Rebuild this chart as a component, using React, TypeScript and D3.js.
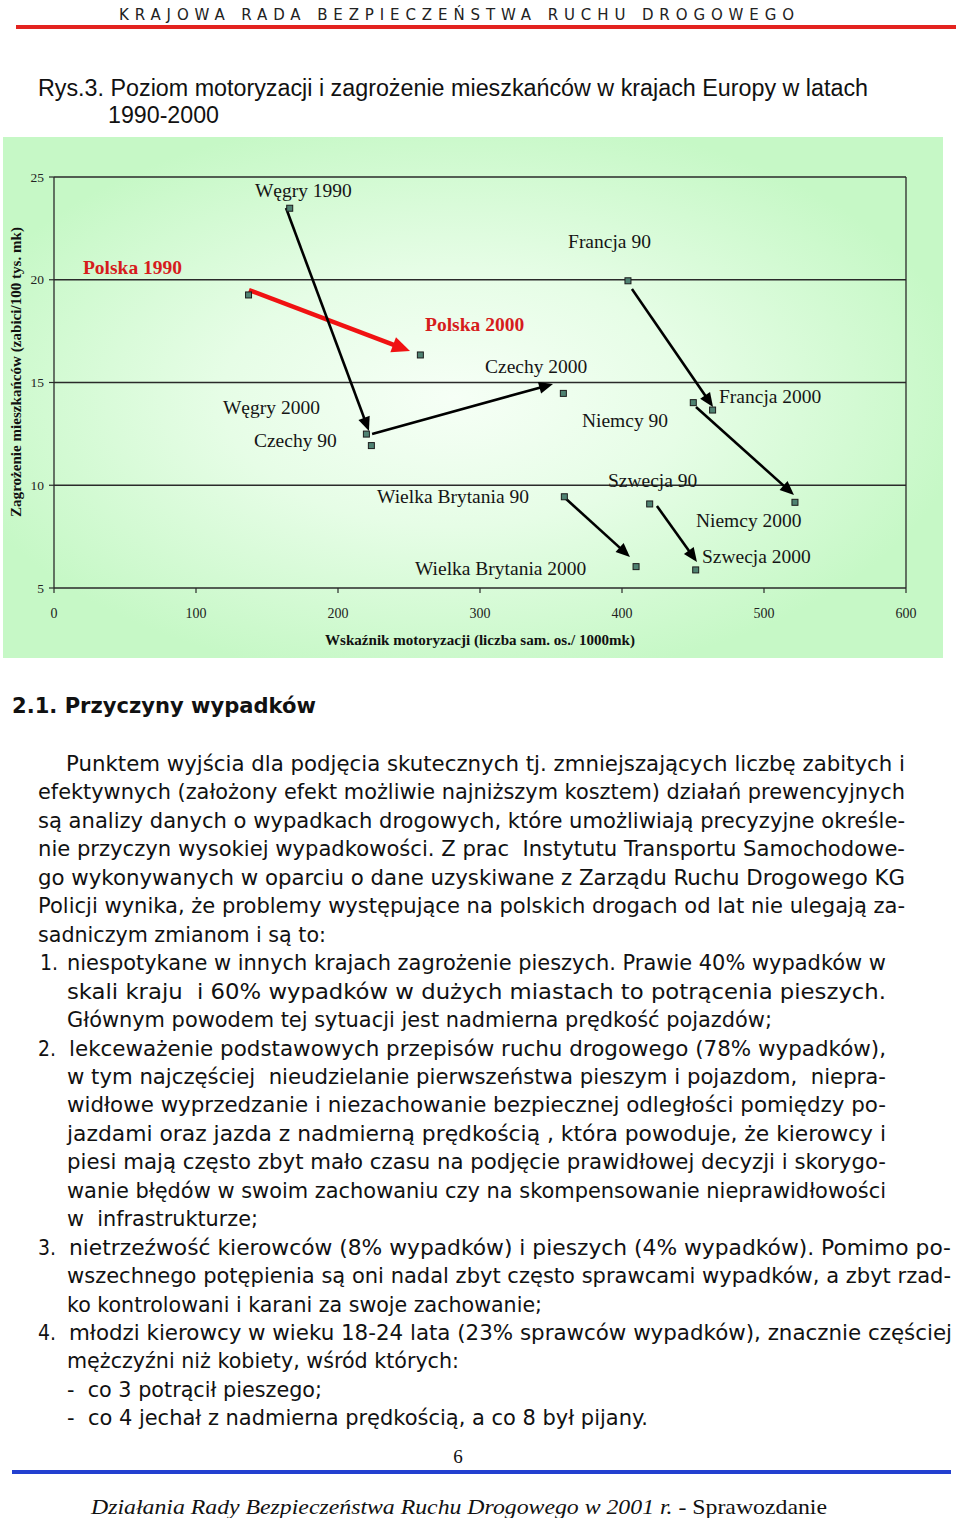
import React from "react";
import * as d3 from "d3";

// ---------- chart data ----------
const pointLabels = [
  "Polska 1990", "Polska 2000", "Węgry 1990", "Węgry 2000", "Czechy 90", "Czechy 2000",
  "Francja 90", "Francja 2000", "Niemcy 90", "Niemcy 2000",
  "Wielka Brytania 90", "Wielka Brytania 2000", "Szwecja 90", "Szwecja 2000",
];
const motorization = [137, 258, 166, 220, 223.5, 358.7, 404.2, 463.8, 450.2, 521.8, 359.4, 409.9, 419.5, 451.9];
const fatalityRate = [19.26, 16.34, 23.48, 12.49, 11.93, 14.47, 19.95, 13.66, 14.02, 9.17, 9.44, 6.04, 9.09, 5.88];
// label anchors (data units: motorization, rate) for the annotations
const labelAnchorX = [20.4, 261.3, 141.5, 119.0, 140.8, 303.5, 362.0, 468.3, 371.8, 452.1, 227.5, 254.2, 390.1, 456.3];
const labelAnchorY = [20.28, 17.51, 24.03, 13.47, 11.86, 15.46, 21.55, 14.0, 12.83, 7.97, 9.14, 5.63, 9.91, 6.22];
const highlightCountry = "Polska";

const arrowCountries = ["Polska", "Węgry", "Czechy", "Francja", "Niemcy", "Wielka Brytania", "Szwecja"];
const arrowStartX = [137.3, 163.4, 224, 407, 452.1, 359.9, 424.6];
const arrowStartY = [19.5, 23.49, 12.49, 19.55, 13.81, 9.38, 8.99];
const arrowEndX = [250.7, 221.8, 351.4, 464.1, 521.1, 405.6, 452.8];
const arrowEndY = [16.53, 12.64, 14.93, 13.81, 9.53, 6.51, 6.27];

const xTicks = [0, 100, 200, 300, 400, 500, 600];
const yTicks = [5, 10, 15, 20, 25];

const headerText = "KRAJOWA RADA BEZPIECZEŃSTWA RUCHU DROGOWEGO";
const titleLine1 = "Rys.3. Poziom motoryzacji i zagrożenie mieszkańców w krajach Europy w latach";
const titleLine2 = "1990-2000";
const xAxisTitle = "Wskaźnik motoryzacji (liczba sam. os./ 1000mk)";
const yAxisTitle = "Zagrożenie mieszkańców (zabici/100 tys. mk)";
const sectionTitle = "2.1. Przyczyny wypadków";

// body text lines: [number marker, text]
const bodyNumbers = ["", "", "", "", "", "", "", "1.", "", "", "2.", "", "", "", "", "", "", "3.", "", "", "4.", "", "", ""];
const bodyLines = [
  "Punktem wyjścia dla podjęcia skutecznych tj. zmniejszających liczbę zabitych i",
  "efektywnych (założony efekt możliwie najniższym kosztem) działań prewencyjnych",
  "są analizy danych o wypadkach drogowych, które umożliwiają precyzyjne określe-",
  "nie przyczyn wysokiej wypadkowości. Z prac  Instytutu Transportu Samochodowe-",
  "go wykonywanych w oparciu o dane uzyskiwane z Zarządu Ruchu Drogowego KG",
  "Policji wynika, że problemy występujące na polskich drogach od lat nie ulegają za-",
  "sadniczym zmianom i są to:",
  "niespotykane w innych krajach zagrożenie pieszych. Prawie 40% wypadków w",
  "skali kraju  i 60% wypadków w dużych miastach to potrącenia pieszych.",
  "Głównym powodem tej sytuacji jest nadmierna prędkość pojazdów;",
  "lekceważenie podstawowych przepisów ruchu drogowego (78% wypadków),",
  "w tym najczęściej  nieudzielanie pierwszeństwa pieszym i pojazdom,  niepra-",
  "widłowe wyprzedzanie i niezachowanie bezpiecznej odległości pomiędzy po-",
  "jazdami oraz jazda z nadmierną prędkością , która powoduje, że kierowcy i",
  "piesi mają często zbyt mało czasu na podjęcie prawidłowej decyzji i skorygo-",
  "wanie błędów w swoim zachowaniu czy na skompensowanie nieprawidłowości",
  "w  infrastrukturze;",
  "nietrzeźwość kierowców (8% wypadków) i pieszych (4% wypadków). Pomimo po-",
  "wszechnego potępienia są oni nadal zbyt często sprawcami wypadków, a zbyt rzad-",
  "ko kontrolowani i karani za swoje zachowanie;",
  "młodzi kierowcy w wieku 18-24 lata (23% sprawców wypadków), znacznie częściej",
  "mężczyźni niż kobiety, wśród których:",
  "-  co 3 potrącił pieszego;",
  "-  co 4 jechał z nadmierna prędkością, a co 8 był pijany.",
];
// layout of body lines (start x, end x)
const bodyStart = [66, 38, 38, 38, 38, 38, 38, 67, 67, 67, 69, 67, 67, 67, 67, 67, 67, 69, 67, 67, 69, 67, 67, 67];
const bodyEnd = [905, 905, 905, 905, 905, 905, 326, 886, 886, 772, 886, 886, 886, 886, 886, 886, 258, 951, 951, 542, 952, 459, 322, 648];

const footerItalic = "Działania Rady Bezpieczeństwa Ruchu Drogowego w 2001 r.";
const footerPlain = " - Sprawozdanie";
const pageNumber = "6";

function Arrow({ x0, y0, x1, y1, color, sw, len, half }) {
  const dx = x1 - x0, dy = y1 - y0;
  const d = Math.hypot(dx, dy);
  const ux = dx / d, uy = dy / d;
  const bx = x1 - ux * len, by = y1 - uy * len;
  const nx = -uy, ny = ux;
  const pts = [
    [x1, y1],
    [bx + nx * half, by + ny * half],
    [bx - nx * half, by - ny * half],
  ];
  return (
    <g>
      <line x1={x0} y1={y0} x2={bx + ux * 2} y2={by + uy * 2} stroke={color} strokeWidth={sw} />
      <polygon points={pts.map((p) => p.join(",")).join(" ")} fill={color} />
    </g>
  );
}

export default function App() {
  const x = d3.scaleLinear().domain([0, 600]).range([54, 906]);
  const y = d3.scaleLinear().domain([5, 25]).range([588, 177]);
  const serif = "'Liberation Serif', 'Times New Roman', serif";
  const sans = "'DejaVu Sans', Verdana, sans-serif";
  const lineGap = 28.45;
  const firstBase = 771;

  return (
    <svg width={960} height={1518} style={{ position: "absolute", left: 0, top: 0, background: "#fff" }}>
      <defs>
        <radialGradient id="bg" cx="0.48" cy="0.5" r="0.55">
          <stop offset="0" stopColor="#f6fff6" />
          <stop offset="0.45" stopColor="#e6fde6" />
          <stop offset="1" stopColor="#c6f8c6" />
        </radialGradient>
      </defs>
      <rect width={960} height={1518} fill="#fff" />

      {/* header */}
      <text x={119} y={19.5} fontFamily={sans} fontSize={15} fill="#222" textLength={675} lengthAdjust="spacing">
        {headerText}
      </text>
      <rect x={16} y={25} width={940} height={4} fill="#e3231f" />

      {/* title */}
      <text x={38} y={96} fontFamily="'Liberation Sans', Arial, sans-serif" fontSize={23.5} fill="#111" textLength={830} lengthAdjust="spacingAndGlyphs">
        {titleLine1}
      </text>
      <text x={108} y={122.5} fontFamily="'Liberation Sans', Arial, sans-serif" fontSize={23.5} fill="#111" textLength={111} lengthAdjust="spacingAndGlyphs">
        {titleLine2}
      </text>

      {/* chart background */}
      <rect x={3} y={137} width={940} height={521} fill="url(#bg)" />

      {/* gridlines */}
      {yTicks.map((t) => (
        <line key={"g" + t} x1={x(0)} x2={x(600)} y1={y(t)} y2={y(t)} stroke="#2a2a2a" strokeWidth={1.3} />
      ))}
      <line x1={x(600)} x2={x(600)} y1={y(25)} y2={y(5)} stroke="#2a2a2a" strokeWidth={1.3} />
      <line x1={x(0)} x2={x(0)} y1={y(25)} y2={y(5)} stroke="#2a2a2a" strokeWidth={1.3} />
      {yTicks.map((t) => (
        <g key={"yt" + t}>
          <line x1={x(0) - 5} x2={x(0)} y1={y(t)} y2={y(t)} stroke="#2a2a2a" strokeWidth={1.2} />
          <text x={44} y={y(t) + 4.5} textAnchor="end" fontFamily={serif} fontSize={13.5} fill="#222">
            {t}
          </text>
        </g>
      ))}
      {xTicks.map((t) => (
        <g key={"xt" + t}>
          <line x1={x(t)} x2={x(t)} y1={y(5)} y2={y(5) + 5} stroke="#2a2a2a" strokeWidth={1.2} />
          <text x={x(t)} y={618} textAnchor="middle" fontFamily={serif} fontSize={14} fill="#222">
            {t}
          </text>
        </g>
      ))}
      <text x={480} y={645} textAnchor="middle" fontFamily={serif} fontWeight="bold" fontSize={14} fill="#111" textLength={310} lengthAdjust="spacingAndGlyphs">
        {xAxisTitle}
      </text>
      <text
        transform={`translate(21,372) rotate(-90)`}
        textAnchor="middle"
        fontFamily={serif}
        fontWeight="bold"
        fontSize={14}
        fill="#111"
        textLength={290}
        lengthAdjust="spacingAndGlyphs"
      >
        {yAxisTitle}
      </text>

      {/* arrows */}
      {arrowCountries.map((c, i) => {
        const hl = c === highlightCountry;
        return (
          <Arrow
            key={"a" + c}
            x0={x(arrowStartX[i])}
            y0={y(arrowStartY[i])}
            x1={x(arrowEndX[i])}
            y1={y(arrowEndY[i])}
            color={hl ? "#f01212" : "#000"}
            sw={hl ? 4.5 : 2.6}
            len={hl ? 18 : 14}
            half={hl ? 8 : 6}
          />
        );
      })}

      {/* points */}
      {pointLabels.map((l, i) => (
        <rect
          key={"p" + l}
          x={x(motorization[i]) - 3}
          y={y(fatalityRate[i]) - 3}
          width={6}
          height={6}
          fill="#4f8272"
          stroke="#1c1c1c"
          strokeWidth={1}
        />
      ))}

      {/* labels */}
      {pointLabels.map((l, i) => {
        const hl = l.startsWith(highlightCountry);
        return (
          <text
            key={"l" + l}
            x={x(labelAnchorX[i])}
            y={y(labelAnchorY[i])}
            fontFamily={serif}
            fontSize={19.5}
            fontWeight={hl ? "bold" : "normal"}
            fill={hl ? "#d61c1c" : "#151515"}
          >
            {l}
          </text>
        );
      })}

      {/* section */}
      <text x={12} y={713} fontFamily={sans} fontWeight="bold" fontSize={21} fill="#111" textLength={304} lengthAdjust="spacingAndGlyphs">
        {sectionTitle}
      </text>

      {bodyLines.map((line, i) => {
        const base = firstBase + i * lineGap;
        return (
          <g key={"b" + i}>
            {bodyNumbers[i] && (
              <text x={i === 7 ? 40 : 38} y={base} fontFamily={sans} fontSize={21} fill="#111" textLength={18} lengthAdjust="spacingAndGlyphs">
                {bodyNumbers[i]}
              </text>
            )}
            <text
              x={bodyStart[i]}
              y={base}
              fontFamily={sans}
              fontSize={21}
              fill="#111"
              textLength={bodyEnd[i] - bodyStart[i]}
              lengthAdjust="spacingAndGlyphs"
              style={{ whiteSpace: "pre" }}
            >
              {line}
            </text>
          </g>
        );
      })}

      {/* footer */}
      <text x={458} y={1463} textAnchor="middle" fontFamily={serif} fontSize={19} fill="#111">
        {pageNumber}
      </text>
      <rect x={12} y={1470} width={939} height={4} fill="#2340d0" />
      <text x={91} y={1514} fontFamily={serif} fontSize={22} fill="#111" textLength={736} lengthAdjust="spacingAndGlyphs" style={{ whiteSpace: "pre" }}>
        <tspan fontStyle="italic">{footerItalic}</tspan>
        <tspan>{footerPlain}</tspan>
      </text>
    </svg>
  );
}
